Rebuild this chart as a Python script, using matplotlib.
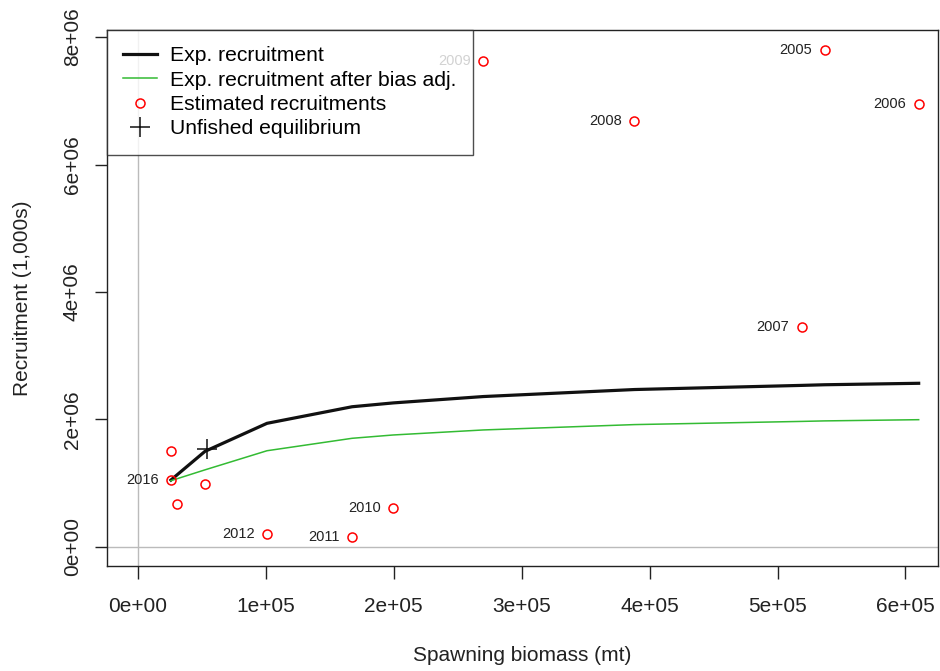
import numpy as np
import matplotlib
matplotlib.use("Agg")
import matplotlib.pyplot as plt

plt.rcParams['font.family'] = ['Liberation Sans', 'DejaVu Sans']

# estimated recruitments by year
years = [2005, 2006, 2007, 2008, 2009, 2010, 2011, 2012, 2013, 2014, 2015, 2016]
ssb = [536.8e3, 610.3e3, 518.8e3, 388.1e3, 270.0e3, 199.5e3, 167.4e3, 100.9e3,
       52.4e3, 30.5e3, 25.8e3, 25.8e3]
rec = [7.80e6, 6.95e6, 3.45e6, 6.68e6, 7.62e6, 0.61e6, 0.16e6, 0.20e6,
       0.99e6, 0.675e6, 1.506e6, 1.05e6]
labelled = [2005, 2006, 2007, 2008, 2009, 2010, 2011, 2012, 2016]

# expected recruitment curves, sorted by spawning biomass
curve_ssb = [25.8e3, 30.5e3, 52.4e3, 100.9e3, 167.4e3, 199.5e3, 270.0e3,
             388.1e3, 518.8e3, 536.8e3, 610.3e3]
exp_rec = [1.05e6, 1.13e6, 1.50e6, 1.94e6, 2.20e6, 2.26e6, 2.36e6,
           2.47e6, 2.535e6, 2.545e6, 2.568e6]
exp_rec_adj = [1.04e6, 1.07e6, 1.21e6, 1.51e6, 1.705e6, 1.757e6, 1.836e6,
               1.92e6, 1.97e6, 1.978e6, 1.997e6]

unfished_ssb = 53.7e3
unfished_rec = 1.532e6

fig = plt.figure(figsize=(9.4, 6.71), dpi=100)
ax = fig.add_axes([0.1138, 0.1565, 0.998 - 0.1138, 0.9553 - 0.1565])

ax.axvline(0, color='#bbbbbb', lw=1, zorder=1)
ax.axhline(0, color='#bbbbbb', lw=1, zorder=1)

ax.plot(curve_ssb, exp_rec, color='#111111', lw=2.3, label='Exp. recruitment', zorder=3)
ax.plot(curve_ssb, exp_rec_adj, color='#33bb33', lw=1.1,
        label='Exp. recruitment after bias adj.', zorder=3)
ax.plot(ssb, rec, ls='none', marker='o', ms=6.5, mfc='none', mec='#ff0000', mew=1.1,
        label='Estimated recruitments', zorder=4)
ax.plot([unfished_ssb], [unfished_rec], ls='none', marker='+', ms=15, mew=1.1,
        color='#111111', label='Unfished equilibrium', zorder=5)

for yr, s, r in zip(years, ssb, rec):
    if yr in labelled:
        ax.annotate(str(yr), (s, r), xytext=(-9, 0), textcoords='offset points',
                    ha='right', va='center', fontsize=10.5, color='#222222', zorder=2)

ax.set_xlim(-24.2e3, 625.5e3)
ax.set_ylim(-0.298e6, 8.11e6)
ax.set_xticks(np.arange(0, 7e5, 1e5))
ax.set_xticklabels(['%de+05' % i if i else '0e+00' for i in range(7)])
ax.set_yticks(np.arange(0, 9e6, 2e6))
ax.set_yticklabels(['0e+00', '2e+06', '4e+06', '6e+06', '8e+06'], rotation=90, va='center')
ax.tick_params(direction='out', length=9, width=1, labelsize=15, colors='#222222')
ax.tick_params(axis='x', pad=13)
ax.tick_params(axis='y', pad=9)
for sp in ax.spines.values():
    sp.set_color('#222222')
    sp.set_linewidth(1)

ax.set_xlabel('Spawning biomass (mt)', fontsize=15, color='#222222', labelpad=22)
ax.set_ylabel('Recruitment (1,000s)', fontsize=15, color='#222222', labelpad=22)

leg = ax.legend(loc='upper left', borderaxespad=0, fontsize=15.2, frameon=True,
                fancybox=False, framealpha=0.8, edgecolor='#222222',
                handlelength=1.6, handletextpad=0.6, labelspacing=0.25,
                borderpad=0.78)
leg.get_frame().set_linewidth(1)
leg.set_zorder(10)

fig.savefig('out.png', dpi=100)
